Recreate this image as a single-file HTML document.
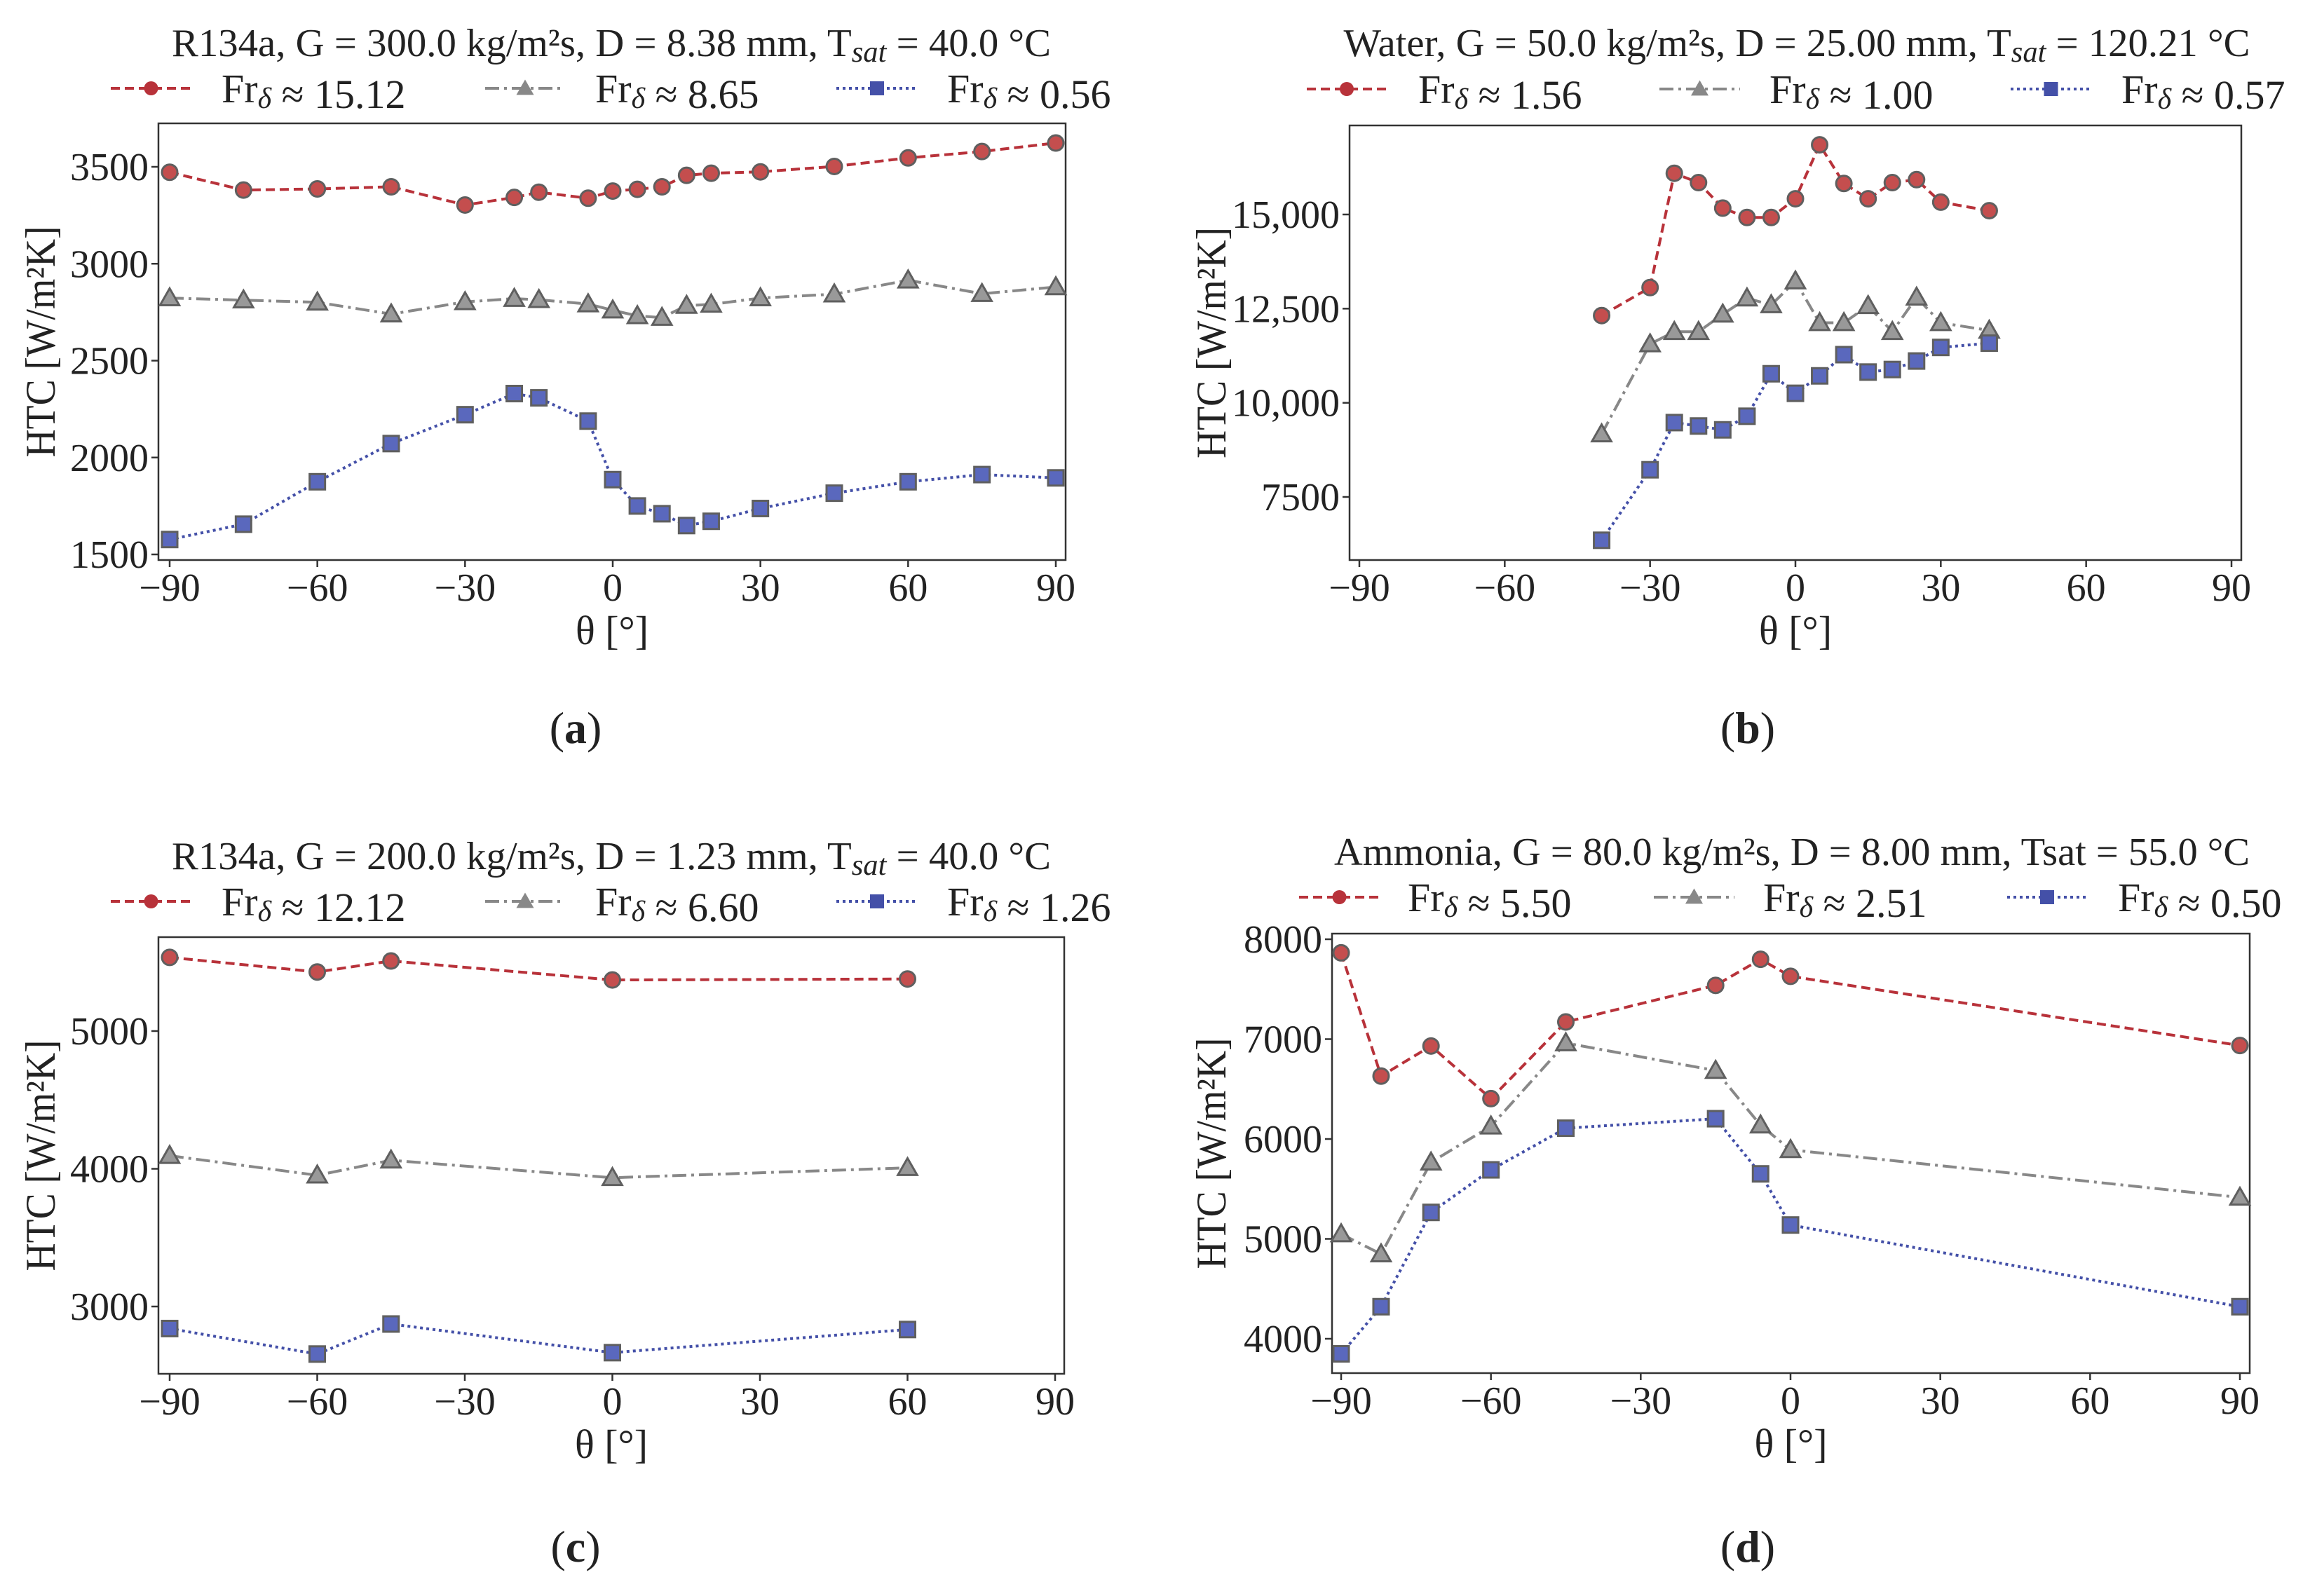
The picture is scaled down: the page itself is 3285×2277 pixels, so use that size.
<!DOCTYPE html>
<html><head><meta charset="utf-8"><style>
html,body{margin:0;padding:0;background:#fff;}
svg, svg text{font-family:"Liberation Serif","DejaVu Serif",serif;}
</style></head><body>
<svg id="fig" xmlns="http://www.w3.org/2000/svg" width="3285" height="2272" viewBox="0 0 3285 2272" font-family="Liberation Serif, DejaVu Serif, serif"></svg>
<script>
// ---- Panel (a) data ----
const aTheta = [-90,-75,-60,-45,-30,-20,-15,-5,0,5,10,15,20,30,45,60,75,90];
const aRed  = [3472,3380,3386,3397,3303,3342,3369,3338,3375,3384,3397,3456,3467,3474,3502,3546,3579,3623];
const aGray = [2823,2812,2801,2740,2803,2820,2814,2792,2760,2731,2722,2784,2790,2823,2843,2915,2845,2880];
const aBlue = [1577,1656,1875,2072,2221,2330,2308,2188,1886,1750,1710,1649,1671,1737,1816,1875,1912,1895];
const aYTicks = [1500,2000,2500,3000,3500];
const aYTickLabels = ["1500","2000","2500","3000","3500"];
const aLegend = ["Fr\u03B4 \u2248 15.12","Fr\u03B4 \u2248 8.65","Fr\u03B4 \u2248 0.56"];
// ---- Panel (b) data ----
const bTheta = [-40,-30,-25,-20,-15,-10,-5,0,5,10,15,20,25,30,40];
const bRed  = [12316,13060,16094,15846,15169,14921,14921,15417,16850,15823,15417,15846,15925,15327,15101];
const bGray = [9170,11560,11887,11887,12350,12778,12598,13230,12124,12124,12575,11887,12800,12124,11921];
const bBlue = [6350,8222,9474,9384,9282,9643,10771,10252,10715,11278,10816,10884,11109,11470,11583];
const bYTicks = [7500,10000,12500,15000];
const bYTickLabels = ["7500","10,000","12,500","15,000"];
const bLegend = ["Fr\u03B4 \u2248 1.56","Fr\u03B4 \u2248 1.00","Fr\u03B4 \u2248 0.57"];
// ---- Panel (c) data ----
const cTheta = [-90,-60,-45,0,60];
const cRed  = [5535,5429,5509,5371,5378];
const cGray = [4095,3953,4062,3935,4007];
const cBlue = [2840,2655,2873,2665,2833];
const cYTicks = [3000,4000,5000];
const cYTickLabels = ["3000","4000","5000"];
const cLegend = ["Fr\u03B4 \u2248 12.12","Fr\u03B4 \u2248 6.60","Fr\u03B4 \u2248 1.26"];
// ---- Panel (d) data ----
const dTheta = [-90,-82,-72,-60,-45,-15,-6,0,90];
const dRed  = [7864,6630,6931,6404,7172,7538,7799,7629,6936];
const dGray = [5049,4848,5767,6128,6961,6685,6138,5892,5415];
const dBlue = [3849,4321,5265,5691,6108,6203,5651,5139,4321];
const dYTicks = [4000,5000,6000,7000,8000];
const dYTickLabels = ["4000","5000","6000","7000","8000"];
const dLegend = ["Fr\u03B4 \u2248 5.50","Fr\u03B4 \u2248 2.51","Fr\u03B4 \u2248 0.50"];
const xTicks = [-90,-60,-30,0,30,60,90];
const xTickLabels = ["\u221290","\u221260","\u221230","0","30","60","90"];

const NS = "http://www.w3.org/2000/svg";
const FF = "Liberation Serif, DejaVu Serif, serif";
const fig = document.getElementById('fig');
function mk(tag, attrs, parent){
  const e = document.createElementNS(NS, tag);
  for (const k in attrs) e.setAttribute(k, attrs[k]);
  if (tag === 'text') e.setAttribute('font-family', FF);
  (parent||fig).appendChild(e);
  return e;
}
const STY = [
  {line:"#b8323a", fill:"#c44e4e", dash:"13,7", m:"circle"},
  {line:"#888888", fill:"#999999", dash:"20,7,4,7", m:"tri"},
  {line:"#4450a8", fill:"#5a68bd", dash:"4,5", m:"square"}
];
function marker(g, type, x, y, fill, size){
  let e;
  if (type==="circle") e = mk('circle',{cx:x,cy:y,r:size,fill:fill,stroke:"#5f5f5f","stroke-width":3},g);
  else if (type==="square") e = mk('rect',{x:x-size,y:y-size,width:2*size,height:2*size,fill:fill,stroke:"#5f5f5f","stroke-width":3},g);
  else { const s=size*1.25; e = mk('polygon',{points:`${x},${y-s} ${x+s},${y+s*0.75} ${x-s},${y+s*0.75}`,fill:fill,stroke:"#5f5f5f","stroke-width":3},g); }
  return e;
}
function panel(P){
  const g = mk('g',{});
  
  
  const xs = t => P.x0 + (t - (-90)) * (P.x1 - P.x0) / 180;
  const ys = v => P.yv0 + (P.v0 - v) * (P.yv1 - P.yv0) / (P.v0 - P.v1);
  const fr = mk('rect',{x:P.L,y:P.T,width:P.R-P.L,height:P.B-P.T,fill:"none",stroke:"#333","stroke-width":2.5},g);
  
  
  xTicks.forEach((t,i)=>{
    const x = xs(t);
    mk('line',{x1:x,y1:P.B,x2:x,y2:P.B+10,stroke:"#333","stroke-width":2.5},g);
    const tx = mk('text',{x:x,y:P.B+58,"font-size":56,"text-anchor":"middle",fill:"#222"},g);
    tx.textContent = xTickLabels[i];
    
    
  });
  P.yt.forEach((v,i)=>{
    const y = ys(v);
    mk('line',{x1:P.L-10,y1:y,x2:P.L,y2:y,stroke:"#333","stroke-width":2.5},g);
    const tx = mk('text',{x:P.L-14,y:y+19,"font-size":56,"text-anchor":"end",fill:"#222"},g);
    tx.textContent = P.ytl[i];
    
    
  });
  const xl = mk('text',{x:(P.L+P.R)/2,y:P.B+120,"font-size":58,"text-anchor":"middle",fill:"#222"},g);
  xl.textContent = "\u03B8 [\u00B0]";
  
  
  const yl = mk('text',{x:0,y:0,"font-size":60,"text-anchor":"middle",fill:"#222",textLength:330,lengthAdjust:"spacingAndGlyphs",transform:`translate(${P.ylx},${(P.T+P.B)/2}) rotate(-90)`},g);
  yl.textContent = "HTC [W/m\u00B2K]";
  
  
  const ti = mk('text',{x:P.tcx,y:P.ty,"font-size":56,"text-anchor":"middle",fill:"#222",textLength:P.tw,lengthAdjust:"spacingAndGlyphs"},g);
  ti.innerHTML = P.title;
  
  
  P.series.forEach((vals,si)=>{
    const s = STY[si];
    const pts = P.th.map((t,i)=>xs(t)+","+ys(vals[i])).join(" ");
    const pl = mk('polyline',{points:pts,fill:"none",stroke:s.line,"stroke-width":4,"stroke-dasharray":s.dash},g);
    
    
    P.th.forEach((t,i)=>{
      const m = marker(g, s.m, xs(t), ys(vals[i]), s.fill, 11);
      
      
    });
    const lx = P.leg[si];
    const le = mk('line',{x1:lx[0],y1:P.ly,x2:lx[1],y2:P.ly,stroke:s.line,"stroke-width":4,"stroke-dasharray":s.dash},g);
    
    
    const mm = marker(g, s.m, (lx[0]+lx[1])/2, P.ly, s.line, 10);
    mm.setAttribute('stroke','none');
    
    
    const lt = mk('text',{x:lx[2],y:P.ly+20,"font-size":58,fill:"#222"},g);
    lt.innerHTML = P.legTxt[si].replace("\u03B4","<tspan font-style='italic' font-size='42' dy='8'>\u03B4</tspan><tspan dy='-8'></tspan>");
    
    
  });
  const cap = mk('text',{x:P.capx,y:P.capy,"font-size":64,"text-anchor":"middle",fill:"#222"},g);
  cap.innerHTML = P.cap;
  
  
}
const tsat = "T<tspan font-style='italic' font-size='42' dy='8'>sat</tspan><tspan dy='-8'> </tspan>";
panel({name:"panel-a",L:226,R:1520,T:176,B:799,x0:242,x1:1506,v0:3500,yv0:238,v1:1500,yv1:791,
  yt:aYTicks,ytl:aYTickLabels,ylx:78,tcx:872,ty:80,tw:1254,
  title:"R134a, G = 300.0 kg/m\u00B2s, D = 8.38 mm, "+tsat+"= 40.0 \u00B0C",
  th:aTheta,series:[aRed,aGray,aBlue],ly:126,leg:[[158,273,316],[692,806,849],[1193,1309,1351]],legTxt:aLegend,
  cap:"(<tspan font-weight='bold'>a</tspan>)",capx:821,capy:1060});
panel({name:"panel-b",L:1925,R:3197,T:179,B:799,x0:1939,x1:3183,v0:15000,yv0:306,v1:7500,yv1:709,
  yt:bYTicks,ytl:bYTickLabels,ylx:1748,tcx:2563,ty:80,tw:1293,
  title:"Water, G = 50.0 kg/m\u00B2s, D = 25.00 mm, "+tsat+"= 120.21 \u00B0C",
  th:bTheta,series:[bRed,bGray,bBlue],ly:127,leg:[[1864,1978,2023],[2367,2482,2524],[2868,2983,3026]],legTxt:bLegend,
  cap:"(<tspan font-weight='bold'>b</tspan>)",capx:2493,capy:1060});
panel({name:"panel-c",L:226,R:1518,T:1337,B:1960,x0:242,x1:1505,v0:5000,yv0:1471,v1:3000,yv1:1864,
  yt:cYTicks,ytl:cYTickLabels,ylx:78,tcx:872,ty:1240,tw:1254,
  title:"R134a, G = 200.0 kg/m\u00B2s, D = 1.23 mm, "+tsat+"= 40.0 \u00B0C",
  th:cTheta,series:[cRed,cGray,cBlue],ly:1286,leg:[[158,273,316],[692,806,849],[1193,1309,1351]],legTxt:cLegend,
  cap:"(<tspan font-weight='bold'>c</tspan>)",capx:821,capy:2228});
panel({name:"panel-d",L:1900,R:3209,T:1332,B:1959,x0:1913,x1:3195,v0:8000,yv0:1340,v1:4000,yv1:1910,
  yt:dYTicks,ytl:dYTickLabels,ylx:1748,tcx:2556,ty:1234,tw:1306,
  title:"Ammonia, G = 80.0 kg/m\u00B2s, D = 8.00 mm, Tsat = 55.0 \u00B0C",
  th:dTheta,series:[dRed,dGray,dBlue],ly:1280,leg:[[1853,1968,2008],[2359,2474,2515],[2863,2977,3021]],legTxt:dLegend,
  cap:"(<tspan font-weight='bold'>d</tspan>)",capx:2493,capy:2228});
</script>
</body></html>
